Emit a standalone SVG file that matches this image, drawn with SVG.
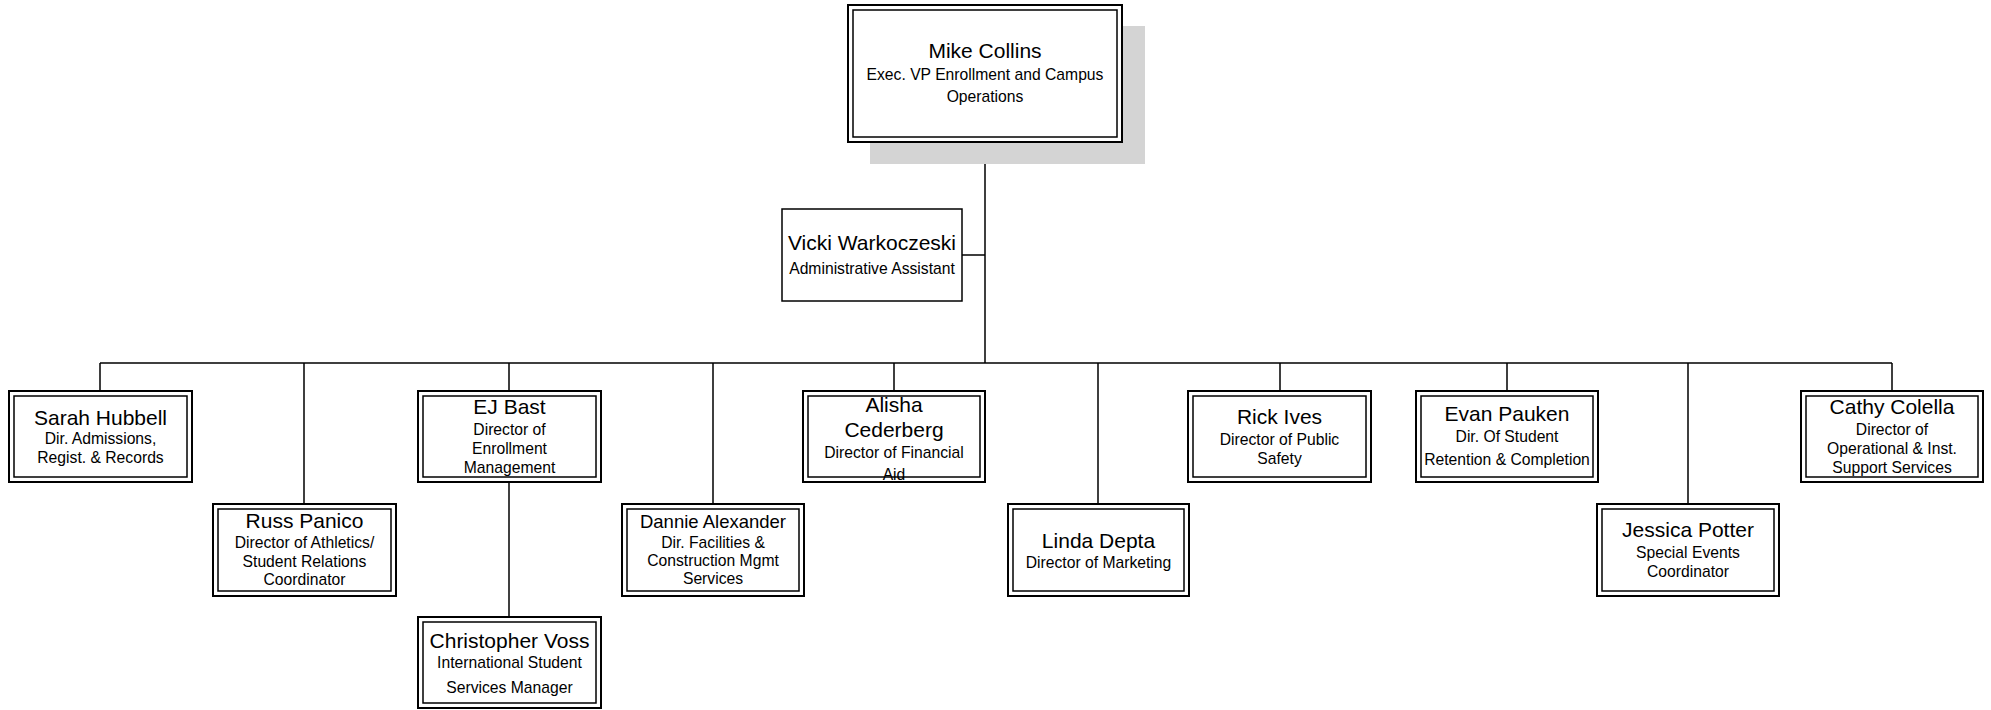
<svg xmlns="http://www.w3.org/2000/svg" width="1991" height="710" viewBox="0 0 1991 710">
<style>
.bg{fill:#fff}
.o{fill:#fff;stroke:#000;stroke-width:2}
.i{fill:none;stroke:#000;stroke-width:1.5}
.s{fill:#fff;stroke:#000;stroke-width:1.5}
.sh{fill:#d4d4d4}
.c{fill:none;stroke:#000;stroke-width:1.5}
text{font-family:"Liberation Sans",Arial,sans-serif;fill:#000;text-anchor:middle}
.n{font-size:21px}
.n2{font-size:18.5px}
.t{font-size:15.7px}
</style>
<rect class="bg" x="0" y="0" width="1991" height="710"/>
<g id="connectors">
<path class="c" d="M985,142V363M962,255H985M100,363H1892"/>
<path class="c" d="M100,363V391M304,363V504M509,363V391M713,363V504M894,363V391M1098,363V504M1280,363V391M1507,363V391M1688,363V504M1892,363V391"/>
<path class="c" d="M509,482V617"/>
</g>
<g id="mike">
<rect class="sh" x="870" y="26" width="275" height="138"/>
<rect class="o" x="848" y="5" width="274" height="137"/>
<rect class="i" x="853" y="10" width="264" height="127"/>
<text class="n" x="985" y="58">Mike Collins</text>
<text class="t" x="985" y="80">Exec. VP Enrollment and Campus</text>
<text class="t" x="985" y="102">Operations</text>
</g>
<g id="vicki">
<rect class="s" x="782" y="209" width="180" height="92"/>
<text class="n" x="872" y="250">Vicki Warkoczeski</text>
<text class="t" x="872" y="274">Administrative Assistant</text>
</g>
<g id="sarah">
<rect class="o" x="9" y="391" width="183" height="91"/>
<rect class="i" x="14" y="396" width="173" height="81"/>
<text class="n" x="100.5" y="425">Sarah Hubbell</text>
<text class="t" x="100.5" y="444">Dir. Admissions,</text>
<text class="t" x="100.5" y="463">Regist. &amp; Records</text>
</g>
<g id="russ">
<rect class="o" x="213" y="504" width="183" height="92"/>
<rect class="i" x="218" y="509" width="173" height="82"/>
<text class="n" x="304.5" y="528">Russ Panico</text>
<text class="t" x="304.5" y="548">Director of Athletics/</text>
<text class="t" x="304.5" y="567">Student Relations</text>
<text class="t" x="304.5" y="585">Coordinator</text>
</g>
<g id="ejbast">
<rect class="o" x="418" y="391" width="183" height="91"/>
<rect class="i" x="423" y="396" width="173" height="81"/>
<text class="n" x="509.5" y="414">EJ Bast</text>
<text class="t" x="509.5" y="435">Director of</text>
<text class="t" x="509.5" y="454">Enrollment</text>
<text class="t" x="509.5" y="473">Management</text>
</g>
<g id="christopher">
<rect class="o" x="418" y="617" width="183" height="91"/>
<rect class="i" x="423" y="622" width="173" height="81"/>
<text class="n" x="509.5" y="648">Christopher Voss</text>
<text class="t" x="509.5" y="668">International Student</text>
<text class="t" x="509.5" y="693">Services Manager</text>
</g>
<g id="dannie">
<rect class="o" x="622" y="504" width="182" height="92"/>
<rect class="i" x="627" y="509" width="172" height="82"/>
<text class="n2" x="713" y="528">Dannie Alexander</text>
<text class="t" x="713" y="548">Dir. Facilities &amp;</text>
<text class="t" x="713" y="566">Construction Mgmt</text>
<text class="t" x="713" y="584">Services</text>
</g>
<g id="alisha">
<rect class="o" x="803" y="391" width="182" height="91"/>
<text class="n" x="894" y="412">Alisha</text>
<text class="n" x="894" y="437">Cederberg</text>
<text class="t" x="894" y="458">Director of Financial</text>
<text class="t" x="894" y="480">Aid</text>
<rect class="i" x="808" y="396" width="172" height="81"/>
</g>
<g id="linda">
<rect class="o" x="1008" y="504" width="181" height="92"/>
<rect class="i" x="1013" y="509" width="171" height="82"/>
<text class="n" x="1098.5" y="548">Linda Depta</text>
<text class="t" x="1098.5" y="568">Director of Marketing</text>
</g>
<g id="rick">
<rect class="o" x="1188" y="391" width="183" height="91"/>
<rect class="i" x="1193" y="396" width="173" height="81"/>
<text class="n" x="1279.5" y="424">Rick Ives</text>
<text class="t" x="1279.5" y="445">Director of Public</text>
<text class="t" x="1279.5" y="464">Safety</text>
</g>
<g id="evan">
<rect class="o" x="1416" y="391" width="182" height="91"/>
<rect class="i" x="1421" y="396" width="172" height="81"/>
<text class="n" x="1507" y="421">Evan Pauken</text>
<text class="t" x="1507" y="442">Dir. Of Student</text>
<text class="t" x="1507" y="465">Retention &amp; Completion</text>
</g>
<g id="jessica">
<rect class="o" x="1597" y="504" width="182" height="92"/>
<rect class="i" x="1602" y="509" width="172" height="82"/>
<text class="n" x="1688" y="537">Jessica Potter</text>
<text class="t" x="1688" y="558">Special Events</text>
<text class="t" x="1688" y="577">Coordinator</text>
</g>
<g id="cathy">
<rect class="o" x="1801" y="391" width="182" height="91"/>
<rect class="i" x="1806" y="396" width="172" height="81"/>
<text class="n" x="1892" y="414">Cathy Colella</text>
<text class="t" x="1892" y="435">Director of</text>
<text class="t" x="1892" y="454">Operational &amp; Inst.</text>
<text class="t" x="1892" y="473">Support Services</text>
</g>
</svg>
